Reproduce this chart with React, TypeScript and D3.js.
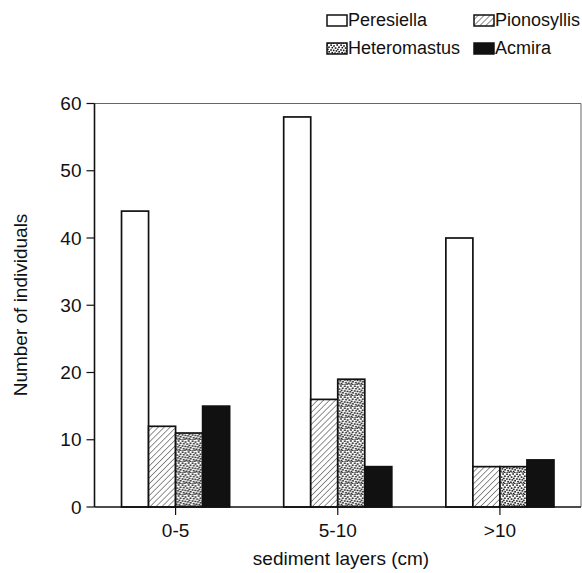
import React from "react";
import * as d3 from "d3";

const categories = ["0-5", "5-10", ">10"];
const seriesNames = ["Peresiella", "Pionosyllis", "Heteromastus", "Acmira"];
const peresiella = [44, 58, 40];
const pionosyllis = [12, 16, 6];
const heteromastus = [11, 19, 6];
const acmira = [15, 6, 7];
const yTicks = [0, 10, 20, 30, 40, 50, 60];

const seriesValues = [peresiella, pionosyllis, heteromastus, acmira];
const fills = ["#fff", "url(#hatch)", "url(#dots)", "#111"];

const W = 582, H = 573;
const left = 94.5, right = 581, top = 103.5, bottom = 507;
const FONT = "Arial, 'Liberation Sans', Helvetica, sans-serif";

// fixed speckle layout for the dotted texture (style, not data)
const speckle: [number, number][] = [
  [0.3, 0.4], [3.2, 1.2], [6.4, 0.2], [8.2, 2.4], [1.5, 2.9], [4.8, 3.3], [7.1, 4.6],
  [0.2, 5.2], [2.9, 5.6], [5.6, 6.1], [8.4, 7.0], [1.4, 7.9], [4.2, 8.4], [6.9, 8.8],
  [2.6, 9.6], [0.4, 10.3], [5.3, 10.4], [8.0, 10.1],
];

export default function App() {
  const x0 = d3.scaleBand<string>().domain(categories).range([left, right]).paddingInner(1 / 3).paddingOuter(1 / 6);
  const x1 = d3.scaleBand<string>().domain(seriesNames).range([0, x0.bandwidth()]);
  const y = d3.scaleLinear().domain([0, 60]).range([bottom, top]);

  const legendItems = [
    { name: seriesNames[0], fill: fills[0], x: 327, y: 20 },
    { name: seriesNames[1], fill: fills[1], x: 474, y: 20 },
    { name: seriesNames[2], fill: fills[2], x: 327, y: 48 },
    { name: seriesNames[3], fill: fills[3], x: 474, y: 48 },
  ];

  return (
    <svg width={W} height={H} style={{ position: "absolute", left: 0, top: 0, background: "#fff" }} fontFamily={FONT}>
      <defs>
        <pattern id="hatch" patternUnits="userSpaceOnUse" width={4.2} height={4.2} patternTransform="rotate(45)">
          <rect width={4.2} height={4.2} fill="#fff" />
          <line x1={0} y1={0} x2={0} y2={4.2} stroke="#222" strokeWidth={1} />
        </pattern>
        <pattern id="dots" patternUnits="userSpaceOnUse" width={10} height={11}>
          <rect width={10} height={11} fill="#fff" />
          {speckle.map(([px, py], i) => (
            <rect key={i} x={px} y={py} width={1.6} height={1.6} fill="#111" />
          ))}
        </pattern>
      </defs>

      {/* frame top/right */}
      <line x1={left} x2={right} y1={top} y2={top} stroke="#666" strokeWidth={1} />
      <line x1={right} x2={right} y1={top} y2={bottom} stroke="#666" strokeWidth={1} />

      {/* bars */}
      {categories.map((c, ci) => (
        <g key={c} transform={`translate(${x0(c)},0)`}>
          {seriesNames.map((s, si) => {
            const v = seriesValues[si][ci];
            return (
              <rect
                key={s}
                x={x1(s)}
                y={y(v)}
                width={x1.bandwidth()}
                height={bottom - y(v)}
                fill={fills[si]}
                stroke="#111"
                strokeWidth={1.7}
              />
            );
          })}
        </g>
      ))}

      {/* axes */}
      <line x1={left} x2={left} y1={top} y2={bottom} stroke="#111" strokeWidth={1.6} />
      <line x1={left} x2={right} y1={bottom} y2={bottom} stroke="#111" strokeWidth={1.6} />
      {yTicks.map((t) => (
        <g key={t}>
          <line x1={left - 8} x2={left} y1={y(t)} y2={y(t)} stroke="#111" strokeWidth={1.2} />
          <text x={left - 13} y={y(t)} dy="0.35em" textAnchor="end" fontSize={19} fill="#111">
            {t}
          </text>
        </g>
      ))}
      {categories.map((c) => {
        const cx = (x0(c) ?? 0) + x0.bandwidth() / 2;
        return (
          <g key={c}>
            <line x1={cx} x2={cx} y1={bottom} y2={bottom + 8} stroke="#111" strokeWidth={1.2} />
            <text x={cx} y={537} textAnchor="middle" fontSize={19} fill="#111">
              {c}
            </text>
          </g>
        );
      })}

      <text x={341} y={565} textAnchor="middle" fontSize={19} fill="#111">
        sediment layers (cm)
      </text>
      <text transform="translate(27,305) rotate(-90)" textAnchor="middle" fontSize={19} fill="#111">
        Number of individuals
      </text>

      {/* legend */}
      {legendItems.map((it) => (
        <g key={it.name}>
          <rect x={it.x} y={it.y - 5} width={20} height={11} fill={it.fill} stroke="#111" strokeWidth={1.5} />
          <text x={it.x + 21} y={it.y} dy="0.35em" fontSize={18} fill="#111">
            {it.name}
          </text>
        </g>
      ))}
    </svg>
  );
}
